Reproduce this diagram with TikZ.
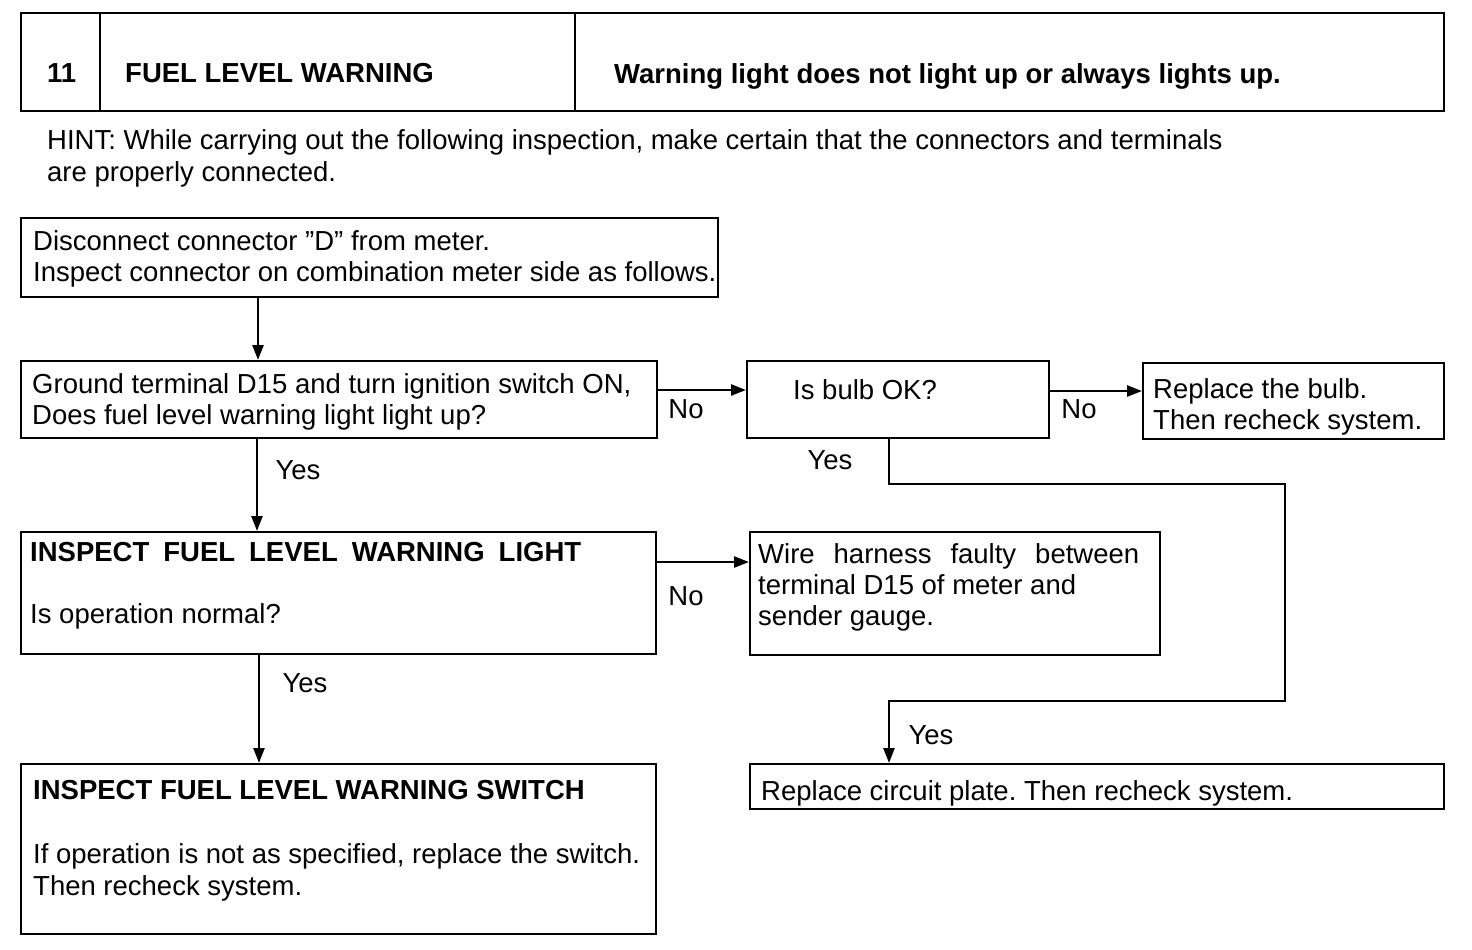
\documentclass[tikz,border=0pt]{standalone}
\usepackage{fontspec}
\setmainfont{Liberation Sans}
\usetikzlibrary{arrows.meta}
\frenchspacing
\begin{document}
\begin{tikzpicture}[x=1pt,y=-1pt,
  box/.style={draw, line width=2pt, inner sep=0pt, anchor=north west},
  txt/.style={inner sep=0pt, anchor=base west, font=\fontsize{27.5}{31}\selectfont},
  btxt/.style={inner sep=0pt, anchor=base west, font=\fontsize{27.5}{31}\selectfont\bfseries},
  lbl/.style={inner sep=0pt, anchor=base, font=\fontsize{27.5}{31}\selectfont},
  arr/.style={line width=2.5pt, line join=miter, arrows={-Triangle[length=15pt,width=11pt]}},
  ln/.style={line width=2pt}]
\useasboundingbox (0,0) rectangle (1472,950);

% header
\node[box, minimum width=1423pt, minimum height=98pt] (hdr) at (20,12) {};
\coordinate (d1) at (100,0);
\coordinate (d2) at (575,0);
\draw[ln] (hdr.north -| d1) -- (hdr.south -| d1);
\draw[ln] (hdr.north -| d2) -- (hdr.south -| d2);
\node[btxt] (hnum) at (47,82) {11};
\node[btxt] (htitle) at (125,82) {FUEL LEVEL WARNING};
\node[btxt] (hsym) at (614,83) {Warning light does not light up or always lights up.};

% hint
\node[txt] (hint1) at (47,149) {HINT: While carrying out the following inspection, make certain that the connectors and terminals};
\node[txt] (hint2) at (47,181) {are properly connected.};

% boxes
\node[box, minimum width=697pt, minimum height=79pt] (b1) at (20,217) {};
\node[box, minimum width=636pt, minimum height=77pt] (b2) at (20,360) {};
\node[box, minimum width=302pt, minimum height=77pt] (b3) at (746,360) {};
\node[box, minimum width=301pt, minimum height=76pt] (b4) at (1142,362) {};
\node[box, minimum width=635pt, minimum height=122pt] (b5) at (20,531) {};
\node[box, minimum width=410pt, minimum height=123pt] (b6) at (749,531) {};
\node[box, minimum width=635pt, minimum height=170pt] (b7) at (20,763) {};
\node[box, minimum width=694pt, minimum height=45pt] (b8) at (749,763) {};

% texts
\node[txt] (t1a) at (33,250) {Disconnect connector ”D” from meter.};
\node[txt] (t1b) at (33,281) {Inspect connector on combination meter side as follows.};
\node[txt] (t2a) at (32,393) {Ground terminal D15 and turn ignition switch ON,};
\node[txt] (t2b) at (32,424) {Does fuel level warning light light up?};
\node[txt] (t3) at (793,399) {Is bulb OK?};
\node[txt] (t4a) at (1153,398) {Replace the bulb.};
\node[txt] (t4b) at (1153,429) {Then recheck system.};
\node[btxt] (t5a) at (30,561) {INSPECT\hspace{14pt}FUEL\hspace{14pt}LEVEL\hspace{14pt}WARNING\hspace{14pt}LIGHT};
\node[txt] (t5b) at (30,623) {Is operation normal?};
\node[txt] (t6a) at (758,563) {Wire\hspace{19pt}harness\hspace{19pt}faulty\hspace{19pt}between};
\node[txt] (t6b) at (758,594) {terminal D15 of meter and};
\node[txt] (t6c) at (758,625) {sender gauge.};
\node[btxt] (t7a) at (33,799) {INSPECT FUEL LEVEL WARNING SWITCH};
\node[txt] (t7b) at (33,863) {If operation is not as specified, replace the switch.};
\node[txt] (t7c) at (33,895) {Then recheck system.};
\node[txt] (t8) at (761,800) {Replace circuit plate. Then recheck system.};

% connectors
\coordinate (xa) at (258,0);
\coordinate (xb) at (257,0);
\coordinate (xc) at (259,0);
\coordinate (ya) at (0,390);
\coordinate (yb) at (0,391);
\coordinate (yc) at (0,562);
\coordinate (xy) at (889,0);
\coordinate (p1) at (1285,484);
\coordinate (p2) at (1285,701);
\draw[arr] (b1.south -| xa) -- (b2.north -| xa);
\draw[arr] (b2.south -| xb) -- (b5.north -| xb);
\draw[arr] (b5.south -| xc) -- (b7.north -| xc);
\draw[arr] (b2.east |- ya) -- (b3.west |- ya);
\draw[arr] (b3.east |- yb) -- (b4.west |- yb);
\draw[arr] (b5.east |- yc) -- (b6.west |- yc);
\draw[arr] (b3.south -| xy) -- (xy |- p1) -- (p1) -- (p2) -- (xy |- p2) -- (b8.north -| xy);

% labels
\node[lbl] (lno1) at (686,418) {No};
\node[lbl] (lno2) at (1079,418) {No};
\node[lbl] (lno3) at (686,605) {No};
\node[lbl] (lyes1) at (298,479) {Yes};
\node[lbl] (lyes2) at (305,692) {Yes};
\node[lbl] (lyes3) at (830,469) {Yes};
\node[lbl] (lyes4) at (931,744) {Yes};
\end{tikzpicture}
\end{document}
